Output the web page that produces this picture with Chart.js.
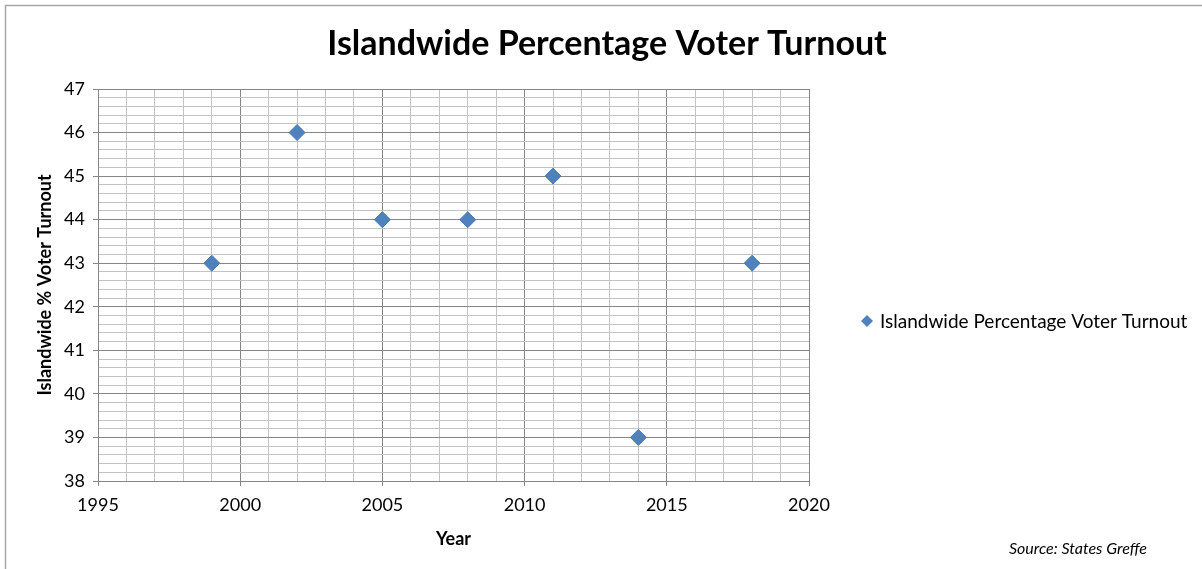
<!DOCTYPE html>
<html>
<head>
<meta charset="utf-8">
<script src="https://cdn.jsdelivr.net/npm/chart.js@4"></script>
<style>
  html, body { margin: 0; padding: 0; background: #fff; }
  #wrap { width: 1202px; height: 569px; }
</style>
</head>
<body>
<div id="wrap"><canvas id="turnout"></canvas></div>
<script>
var chartTitle = 'Islandwide Percentage Voter Turnout';
var seriesName = 'Islandwide Percentage Voter Turnout';
var years = [1999, 2002, 2005, 2008, 2011, 2014, 2018];
var turnout = [43, 46, 44, 44, 45, 39, 43];
var sourceNote = 'Source: States Greffe';

var FONT = 'Lato, "Open Sans", sans-serif';
var BLUE = '#4f81bd';
var MAJOR = '#868686';
var MINOR = '#c3c3c3';

function isInt(v) { return Math.abs(v - Math.round(v)) < 1e-6; }

// title, legend, source note and outer frame drawn by hand
var extras = {
  id: 'extras',
  beforeDraw: function(chart) {
    var ctx = chart.ctx;
    ctx.save();
    ctx.fillStyle = '#fff';
    ctx.fillRect(0, 0, chart.width, chart.height);
    ctx.strokeStyle = '#a6a6a6';
    ctx.lineWidth = 1.5;
    ctx.strokeRect(5.5, 5.5, 1400, 900);
    ctx.restore();
  },
  afterDraw: function(chart) {
    var ctx = chart.ctx;
    ctx.save();
    ctx.fillStyle = '#000';
    ctx.textBaseline = 'middle';
    ctx.textAlign = 'center';
    ctx.font = 'bold 34px ' + FONT;
    ctx.fillText(chartTitle, 607, 44);

    // legend
    var lx = 867, ly = 321, r = 6;
    ctx.beginPath();
    ctx.moveTo(lx, ly - r); ctx.lineTo(lx + r, ly); ctx.lineTo(lx, ly + r); ctx.lineTo(lx - r, ly);
    ctx.closePath();
    ctx.fillStyle = BLUE;
    ctx.fill();
    ctx.fillStyle = '#000';
    ctx.textAlign = 'left';
    ctx.font = '19px ' + FONT;
    ctx.fillText(chart.data.datasets[0].label, 880, 322);

    ctx.textAlign = 'right';
    ctx.font = 'italic 16px ' + FONT;
    ctx.fillText(sourceNote, 1147, 549);
    ctx.restore();
  }
};

new Chart(document.getElementById('turnout'), {
  type: 'scatter',
  data: {
    datasets: [{
      label: seriesName,
      data: years.map(function(y, i) { return { x: y, y: turnout[i] }; }),
      pointStyle: 'rectRot',
      pointRadius: 8,
      pointHoverRadius: 8,
      backgroundColor: BLUE,
      borderColor: '#4a7ab3',
      borderWidth: 1
    }]
  },
  options: {
    responsive: true,
    maintainAspectRatio: false,
    animation: false,
    layout: { padding: { top: 89, right: 393, bottom: 0, left: 0 } },
    plugins: {
      legend: { display: false },
      title: { display: false },
      tooltip: { enabled: false }
    },
    scales: {
      x: {
        type: 'linear',
        min: 1995,
        max: 2020,
        afterFit: function(s) { s.height = 88; },
        ticks: {
          stepSize: 1,
          autoSkip: false,
          maxRotation: 0,
          padding: 8,
          color: '#000',
          font: { family: FONT, size: 18 },
          callback: function(v) { return v % 5 === 0 ? String(v) : ''; }
        },
        grid: {
          color: function(c) { return c.tick && c.tick.value % 5 === 0 ? MAJOR : MINOR; },
          tickColor: function(c) { return c.tick && c.tick.value % 5 === 0 ? MAJOR : 'rgba(0,0,0,0)'; },
          tickLength: 5,
          lineWidth: 1
        },
        border: { color: MAJOR },
        title: {
          display: true,
          text: 'Year',
          color: '#000',
          font: { family: FONT, size: 18, weight: 'bold' },
          padding: { top: 0, bottom: 19 }
        }
      },
      y: {
        min: 38,
        max: 47,
        afterFit: function(s) { s.width = 98; },
        ticks: {
          stepSize: 0.2,
          autoSkip: false,
          padding: 8,
          color: '#000',
          font: { family: FONT, size: 18 },
          callback: function(v) { return isInt(v) ? String(Math.round(v)) : ''; }
        },
        grid: {
          color: function(c) { return c.tick && isInt(c.tick.value) ? MAJOR : MINOR; },
          tickColor: function(c) { return c.tick && isInt(c.tick.value) ? MAJOR : 'rgba(0,0,0,0)'; },
          tickLength: 5,
          lineWidth: 1
        },
        border: { color: MAJOR },
        title: {
          display: true,
          text: 'Islandwide % Voter Turnout',
          color: '#000',
          font: { family: FONT, size: 18, weight: 'bold' },
          padding: { top: 34, bottom: 0 }
        }
      }
    }
  },
  plugins: [extras]
});
</script>
</body>
</html>
